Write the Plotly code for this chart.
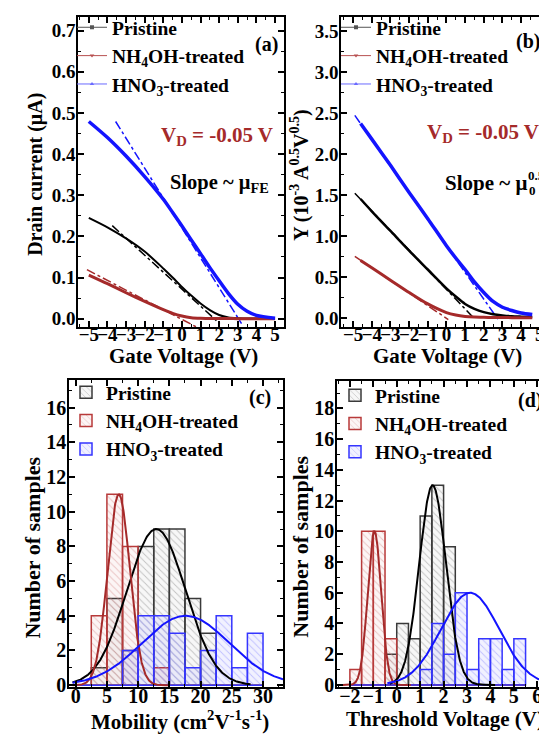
import numpy as np
import plotly.graph_objects as go

W, H = 547, 735
FONT = "Liberation Serif"
BLACK = "#000000"
RED = "#a52a2a"
BLUE = "#1414ff"

# ---------------- (a) drain current vs gate voltage ----------------
vg_a = [-5, -4, -3, -2, -1, -0.5, 0, 0.5, 1, 1.5, 2, 2.5, 3, 3.5, 4, 5]
id_pristine = [0.245, 0.222, 0.195, 0.163, 0.122, 0.100, 0.077, 0.056, 0.037, 0.021,
               0.009, 0.003, 0.0012, 0.0006, 0.0003, 0.0]
id_nh4oh = [0.106, 0.085, 0.063, 0.042, 0.022, 0.013, 0.0065, 0.0025, 0.001, 0.0005,
            0.0003, 0.0002, 0.0001, 0.0, 0.0, 0.0]
id_hno3 = [0.479, 0.440, 0.395, 0.345, 0.290, 0.258, 0.225, 0.191, 0.158, 0.124,
           0.092, 0.061, 0.035, 0.018, 0.008, 0.001]
# linear-fit (tangent) lines: (x0, x1), (y0, y1)
tan_a_pristine = ([-3.74, 2.03], [0.226, -0.012])
tan_a_nh4oh = ([-5.1, 0.77], [0.119, -0.020])
tan_a_hno3 = ([-3.56, 3.2], [0.479, -0.012])

# ---------------- (b) Y-function vs gate voltage ----------------
vg_b = [-4.6, -4, -3, -2, -1, 0, 0.5, 1, 1.5, 2, 2.5, 3, 3.5, 4, 4.6]
y_pristine = [1.45, 1.30, 1.06, 0.82, 0.59, 0.36, 0.26, 0.17, 0.11, 0.07, 0.045, 0.03,
              0.02, 0.015, 0.01]
y_nh4oh = [0.70, 0.61, 0.46, 0.31, 0.17, 0.065, 0.035, 0.018, 0.01, 0.007, 0.005,
           0.004, 0.003, 0.003, 0.003]
y_hno3 = [2.37, 2.18, 1.86, 1.53, 1.21, 0.88, 0.73, 0.59, 0.44, 0.31, 0.20, 0.13,
          0.09, 0.06, 0.04]
tan_b_pristine = ([-4.91, 1.50], [1.52, -0.01])
tan_b_nh4oh = ([-4.91, 0.10], [0.75, -0.02])
tan_b_hno3 = ([-4.91, 2.80], [2.47, -0.03])

# ---------------- (c) mobility histogram ----------------
mob_bins = [1.25, 3.75, 6.25, 8.75, 11.25, 13.75, 16.25, 18.75, 21.25, 23.75, 26.25, 28.75]
mob_width = 2.5
mob_pristine = [0, 1, 5, 2, 8, 9, 9, 5, 3, 0, 0, 0]
mob_nh4oh = [0, 4, 11, 8, 0, 1, 0, 0, 0, 0, 0, 0]
mob_hno3 = [0, 0, 0, 2, 4, 4, 3, 1, 2, 4, 1, 3]
# gaussian fits (amplitude, centre, sigma)
fit_mob_pristine = (9.0, 12.9, 4.7)
fit_mob_nh4oh = (11.0, 6.9, 1.78)
fit_mob_hno3 = (4.0, 17.6, 7.0)

# ---------------- (d) threshold-voltage histogram ----------------
vth_bins = [-1.75, -1.25, -0.75, -0.25, 0.25, 0.75, 1.25, 1.75, 2.25, 2.75, 3.25, 3.75,
            4.25, 4.75, 5.25]
vth_width = 0.5
vth_pristine = [0, 0, 0, 2, 4, 3, 11, 13, 9, 0, 0, 0, 0, 0, 0]
vth_nh4oh = [1, 10, 10, 3, 0, 0, 0, 0, 0, 0, 0, 0, 0, 0, 0]
vth_hno3 = [0, 0, 0, 0, 0, 0, 1, 4, 2, 6, 1, 3, 3, 1, 3]
fit_vth_pristine = (13.0, 1.53, 0.57)
fit_vth_nh4oh = (10.0, -0.95, 0.285)
fit_vth_hno3 = (6.0, 3.13, 1.24)

names = ["Pristine", "NH<sub>4</sub>OH-treated", "HNO<sub>3</sub>-treated"]


def gauss(p, lo, hi):
    a, m, s = p
    x = np.linspace(lo, hi, 300)
    return x, a * np.exp(-(x - m) ** 2 / (2 * s ** 2))


fig = go.Figure()

# legend-only traces for (a) and (b)
leg_line_cols = ["#555555", "#b85050", "#6a6aff"]
leg_syms = ["square", "triangle-down", "triangle-up"]
for lg in ["legend", "legend2"]:
    for nm, c, s in zip(names, leg_line_cols, leg_syms):
        fig.add_trace(go.Scatter(x=[None], y=[None], mode="lines+markers", name=nm,
                                 line=dict(color=c, width=1),
                                 marker=dict(symbol=s, size=4, color=c),
                                 legend=lg, xaxis="x" if lg == "legend" else "x2",
                                 yaxis="y" if lg == "legend" else "y2"))

cols = [BLACK, RED, BLUE]
widths_a = [2.0, 3.0, 3.5]

# (a)
for tan, c in zip([tan_a_pristine, tan_a_nh4oh, tan_a_hno3], cols):
    fig.add_trace(go.Scatter(x=tan[0], y=tan[1], mode="lines", showlegend=False,
                             line=dict(color=c, width=1.5, dash="dashdot"),
                             xaxis="x", yaxis="y"))
for ys, c, w in zip([id_pristine, id_nh4oh, id_hno3], cols, widths_a):
    fig.add_trace(go.Scatter(x=vg_a, y=ys, mode="lines", showlegend=False,
                             line=dict(color=c, width=w, shape="spline", smoothing=0.8),
                             xaxis="x", yaxis="y"))
# (b)
for tan, c in zip([tan_b_pristine, tan_b_nh4oh, tan_b_hno3], cols):
    fig.add_trace(go.Scatter(x=tan[0], y=tan[1], mode="lines", showlegend=False,
                             line=dict(color=c, width=1.5, dash="dashdot"),
                             xaxis="x2", yaxis="y2"))
for ys, c, w in zip([y_pristine, y_nh4oh, y_hno3], cols, [2.5, 3.0, 3.5]):
    fig.add_trace(go.Scatter(x=vg_b, y=ys, mode="lines", showlegend=False,
                             line=dict(color=c, width=w, shape="spline", smoothing=0.8),
                             xaxis="x2", yaxis="y2"))

# histograms
edge_cols = ["#3a3a3a", "#b83a3a", "#3535ff"]
hatch_cols = ["#8c8c8c", "#d88c8c", "#8f8fff"]
bg_cols = ["rgba(150,150,150,0.08)", "rgba(200,80,80,0.06)", "rgba(80,80,255,0.08)"]

for lg, xa, ya, bins, wd, series in [
        ("legend3", "x3", "y3", mob_bins, mob_width, [mob_pristine, mob_nh4oh, mob_hno3]),
        ("legend4", "x4", "y4", vth_bins, vth_width, [vth_pristine, vth_nh4oh, vth_hno3])]:
    for nm, cnt, ec, hc, bc in zip(names, series, edge_cols, hatch_cols, bg_cols):
        fig.add_trace(go.Bar(x=bins, y=cnt, width=wd, name=nm, legend=lg,
                             xaxis=xa, yaxis=ya,
                             marker=dict(color=bc, line=dict(color=ec, width=1.5),
                                         pattern=dict(shape="\\", size=5, solidity=0.18,
                                                      fgcolor=hc, bgcolor=bc))))

# gaussian fits
for p, c, lo, hi in [(fit_mob_pristine, BLACK, -0.5, 28), (fit_mob_nh4oh, RED, -0.5, 15),
                     (fit_mob_hno3, BLUE, -0.5, 33.2)]:
    gx, gy = gauss(p, lo, hi)
    fig.add_trace(go.Scatter(x=gx, y=gy, mode="lines", showlegend=False,
                             line=dict(color=c, width=2), xaxis="x3", yaxis="y3"))
for p, c, lo, hi in [(fit_vth_pristine, BLACK, -0.3, 4.2), (fit_vth_nh4oh, RED, -2.3, 0.6),
                     (fit_vth_hno3, BLUE, -0.4, 6.5)]:
    gx, gy = gauss(p, lo, hi)
    fig.add_trace(go.Scatter(x=gx, y=gy, mode="lines", showlegend=False,
                             line=dict(color=c, width=2), xaxis="x4", yaxis="y4"))


def px_x(v):
    return v / W


def px_y(v):
    return 1 - v / H


def ax(domain, rng, dtick, minor, anchor, tfs, standoff):
    return dict(domain=domain, range=rng, dtick=dtick, tick0=0, anchor=anchor,
                showline=True, linecolor="black", linewidth=1.5, mirror="ticks",
                ticks="inside", ticklen=6, tickwidth=1.5, tickcolor="black",
                tickangle=0, ticklabelstandoff=standoff,
                minor=dict(dtick=minor, ticks="inside", ticklen=3, tickcolor="black",
                           tickwidth=1.2),
                showgrid=False, zeroline=False,
                tickfont=dict(family=FONT, size=tfs, color="black", weight="bold"))


top_dom = [px_y(320), px_y(4)]
bot_dom = [px_y(687), px_y(374)]

layout = dict(
    width=W, height=H, margin=dict(l=0, r=0, t=0, b=0),
    paper_bgcolor="white", plot_bgcolor="white", barmode="overlay",
    xaxis=ax([px_x(70), px_x(276)], [-5.58, 5.48], 1, 0.5, "y", 19, -10),
    yaxis=ax(top_dom, [-0.02, 0.733], 0.1, 0.05, "x", 19, -3),
    xaxis2=ax([px_x(333), px_x(542)], [-5.65, 5.55], 1, 0.5, "y2", 19, -10),
    yaxis2=ax(top_dom, [-0.11, 3.67], 0.5, 0.25, "x2", 19, -3),
    xaxis3=ax([px_x(61), px_x(275)], [-1.07, 33.2], 5, 2.5, "y3", 20, -10),
    yaxis3=ax(bot_dom, [-0.1, 17.6], 2, 1, "x3", 20, -3),
    xaxis4=ax([px_x(329), px_x(541)], [-2.55, 6.5], 1, 0.5, "y4", 20, -10),
    yaxis4=ax([px_y(687), px_y(375)], [-0.13, 19.8], 2, 1, "x4", 20, -3),
    showlegend=True,
)
layout["yaxis"]["tickformat"] = ".1f"
layout["yaxis2"]["tickformat"] = ".1f"

legfont = dict(family=FONT, size=19.5, color="black", weight="bold")
for key, x, y in [("legend", 64, -5), ("legend2", 328, -5), ("legend3", 58, 367),
                  ("legend4", 327, 370)]:
    layout[key] = dict(x=px_x(x), y=px_y(y), xanchor="left", yanchor="top",
                       bgcolor="rgba(0,0,0,0)", font=legfont, tracegroupgap=0,
                       itemwidth=30)

fig.update_layout(**layout)

ann = []


def text(x, y, t, size, color="black", angle=0, xanchor="center"):
    ann.append(dict(x=px_x(x), y=px_y(y), xref="paper", yref="paper", text=t,
                    showarrow=False, textangle=angle, xanchor=xanchor, yanchor="middle",
                    font=dict(family=FONT, size=size, color=color, weight="bold")))


# axis titles
text(28, 165, "Drain current (μA)", 20, angle=-90)
text(292, 165, "Y (10<sup>-3</sup> A<sup>0.5</sup>V<sup>0.5</sup>)", 20, angle=-90)
text(25, 545, "Number of samples", 22, angle=-90)
text(293, 544, "Number of samples", 22, angle=-90)
text(175, 350, "Gate Voltage (V)", 21)
text(439, 350, "Gate Voltage (V)", 21)
text(172, 721, "Mobility (cm<sup>2</sup>V<sup>-1</sup>s<sup>-1</sup>)", 21)
text(437, 720, "Threshold Voltage (V)", 21)
# panel labels
text(258, 32, "(a)", 20)
text(520, 29, "(b)", 20)
text(252, 392, "(c)", 20)
text(522, 395, "(d)", 20)
# annotations
text(267, 125, "V<sub>D</sub> = -0.05 V", 21, color=RED, xanchor="right")
text(533, 122, "V<sub>D</sub> = -0.05 V", 21, color=RED, xanchor="right")
text(211, 174, "Slope ~ μ<sub>FE</sub>", 20.5)
text(521, 173, "Slope ~ μ", 21, xanchor="right")
text(519, 181, "0", 13, xanchor="left")
text(518, 166, "0.5", 13, xanchor="left")

fig.update_layout(annotations=ann)
fig.write_html("out.html")
